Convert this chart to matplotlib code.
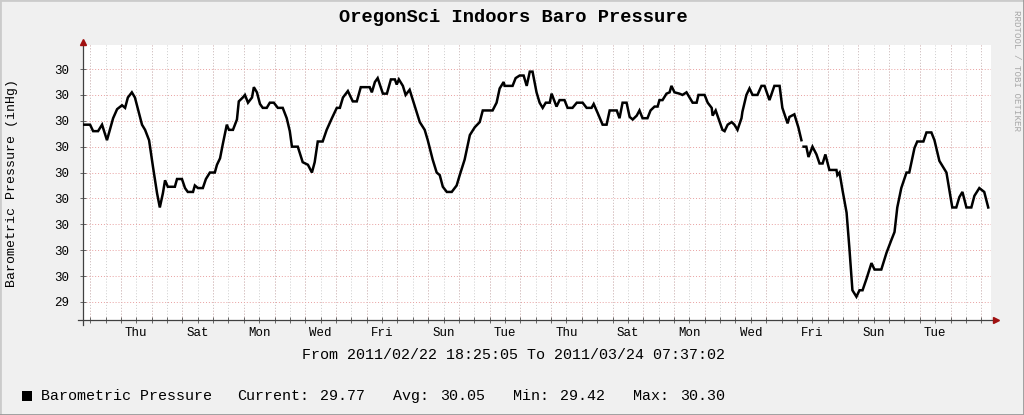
import matplotlib
matplotlib.use('Agg')
import matplotlib.pyplot as plt
import matplotlib.dates as mdates
from matplotlib.ticker import FixedLocator, FormatStrFormatter
from matplotlib.lines import Line2D
from matplotlib.patches import Rectangle
import numpy as np
import pandas as pd

plt.rcParams['font.family'] = ['Liberation Mono', 'DejaVu Sans Mono']

# time span of the graph
start = pd.Timestamp('2011-02-22 18:25:05')
end = pd.Timestamp('2011-03-24 07:37:02')

# days since start, pressure in inHg (nan = gap in the data)
days = [0.00, 0.23, 0.33, 0.49, 0.62, 0.78, 0.98, 1.11, 1.27, 1.37, 1.46, 1.59, 1.69, 1.92,
        2.02, 2.15, 2.28, 2.41, 2.50, 2.60, 2.67, 2.76, 2.99, 3.06, 3.22, 3.32, 3.41, 3.58,
        3.64, 3.74, 3.90, 4.00, 4.13, 4.29, 4.36, 4.46, 4.55, 4.68, 4.75, 4.88, 5.01, 5.07,
        5.20, 5.27, 5.37, 5.50, 5.56, 5.66, 5.76, 5.85, 5.98, 6.08, 6.21, 6.34, 6.50, 6.63,
        6.73, 6.80, 6.99, 7.15, 7.32, 7.45, 7.54, 7.64, 7.80, 7.93, 8.10, 8.26, 8.36, 8.46,
        8.62, 8.78, 8.91, 9.04, 9.33, 9.40, 9.50, 9.59, 9.76, 9.89, 10.02, 10.15, 10.21,
        10.28, 10.41, 10.50, 10.63, 10.80, 10.96, 11.12, 11.22, 11.38, 11.51, 11.61, 11.71,
        11.84, 12.00, 12.16, 12.26, 12.42, 12.59, 12.75, 12.91, 13.01, 13.33, 13.46, 13.56,
        13.69, 13.72, 13.98, 14.08, 14.21, 14.34, 14.44, 14.54, 14.63, 14.76, 14.86, 14.96,
        15.06, 15.19, 15.25, 15.41, 15.51, 15.67, 15.77, 15.93, 16.07, 16.26, 16.39, 16.55,
        16.62, 16.75, 16.91, 17.04, 17.14, 17.37, 17.46, 17.56, 17.69, 17.79, 17.89, 18.02,
        18.11, 18.21, 18.37, 18.47, 18.60, 18.70, 18.76, 18.86, 18.99, 19.09, 19.15, 19.25,
        19.41, 19.51, 19.64, 19.84, 19.97, 20.03, 20.23, 20.33, 20.46, 20.49, 20.59, 20.72,
        20.81, 20.88, 20.98, 21.11, 21.20, 21.30, 21.43, 21.46, 21.59, 21.69, 21.79, 21.95,
        22.08, 22.18, 22.34, 22.50, 22.67, 22.76, 22.93, 22.99, 23.15, 23.28, 23.38, 23.41,
        23.45, 23.54, 23.61, 23.74, 23.87, 23.97, 24.07, 24.16, 24.29, 24.52, 24.55, 24.62,
        24.72, 24.85, 24.94, 25.04, 25.17, 25.27, 25.37, 25.50, 25.66, 25.76, 25.98, 26.15,
        26.31, 26.41, 26.50, 26.63, 26.80, 26.89, 27.06, 27.15, 27.35, 27.45, 27.61, 27.71,
        27.87, 28.10, 28.29, 28.42, 28.52, 28.62, 28.75, 28.91, 29.01, 29.17, 29.33, 29.46]
pressure = [30.085, 30.085, 30.06, 30.06, 30.085, 30.025, 30.11, 30.145, 30.16, 30.15, 30.19, 30.21, 30.19, 30.085,
            30.065, 30.025, 29.92, 29.82, 29.765, 29.82, 29.87, 29.845, 29.845, 29.875, 29.875, 29.84, 29.825, 29.825,
            29.85, 29.84, 29.84, 29.875, 29.9, 29.9, 29.93, 29.955, 30.01, 30.085, 30.065, 30.065, 30.105, 30.175,
            30.19, 30.2, 30.17, 30.19, 30.23, 30.21, 30.165, 30.15, 30.15, 30.17, 30.17, 30.15, 30.15, 30.11,
            30.06, 30.0, 30.0, 29.94, 29.93, 29.9, 29.94, 30.02, 30.02, 30.065, 30.11, 30.15, 30.15, 30.19,
            30.215, 30.175, 30.175, 30.23, 30.23, 30.21, 30.25, 30.265, 30.205, 30.205, 30.26, 30.26, 30.24,
            30.26, 30.235, 30.2, 30.22, 30.155, 30.095, 30.065, 30.025, 29.95, 29.9, 29.89, 29.845,
            29.825, 29.825, 29.85, 29.89, 29.95, 30.045, 30.075, 30.095, 30.14, 30.14, 30.17, 30.225,
            30.25, 30.235, 30.235, 30.265, 30.275, 30.275, 30.235, 30.29, 30.29, 30.21, 30.17, 30.15,
            30.17, 30.17, 30.205, 30.155, 30.18, 30.18, 30.15, 30.15, 30.17, 30.17, 30.15, 30.15,
            30.165, 30.13, 30.085, 30.085, 30.14, 30.14, 30.11, 30.17, 30.17, 30.115, 30.105, 30.12,
            30.14, 30.11, 30.11, 30.14, 30.155, 30.155, 30.18, 30.18, 30.205, 30.21, 30.235, 30.21,
            30.205, 30.2, 30.21, 30.17, 30.17, 30.2, 30.2, 30.17, 30.15, 30.12, 30.14, 30.095,
            30.065, 30.06, 30.085, 30.095, 30.085, 30.065, 30.11, 30.135, 30.2, 30.225, 30.2, 30.2,
            30.235, 30.235, 30.18, 30.235, 30.235, 30.15, 30.09, 30.115, 30.125, 30.075, 30.025, np.nan,
            30.0, 30.0, 29.96, 30.0, 29.97, 29.935, 29.935, 29.97, 29.91, 29.91, 29.89, 29.9,
            29.83, 29.745, 29.61, 29.445, 29.42, 29.445, 29.445, 29.49, 29.55, 29.525, 29.525, 29.59,
            29.64, 29.67, 29.765, 29.84, 29.9, 29.9, 29.995, 30.02, 30.02, 30.055, 30.055, 30.025,
            29.945, 29.9, 29.765, 29.765, 29.805, 29.825, 29.765, 29.765, 29.81, 29.84, 29.825, 29.765]

legend_name = 'Barometric Pressure'
stat_names = ['Current:', 'Avg:', 'Min:', 'Max:']
stat_values = [29.77, 30.05, 29.42, 30.30]

W, H = 1024, 415
fig = plt.figure(figsize=(W / 100, H / 100), dpi=100, facecolor='#f0f0f0')
ax = fig.add_axes([83 / W, 95 / H, 908 / W, 275 / H])
ax.set_facecolor('white')

times = (start + pd.to_timedelta(days, unit='D')).to_numpy()
ax.plot(times, pressure, color='black', lw=1.8, solid_joinstyle='miter', zorder=5)

ax.set_xlim(start, end)
ax.set_ylim(29.33, 30.393)

# y grid every 0.1
ax.yaxis.set_major_locator(FixedLocator(np.arange(29.4, 30.31, 0.1)))
ax.yaxis.set_major_formatter(FormatStrFormatter('%.0f'))
ax.grid(axis='y', which='major', color='#e8a0a0', ls=(0, (1, 2)), lw=0.7)

# x: minor grid every 12h, major (red) at midnight, labels at noon every 2 days
ax.xaxis.set_minor_locator(mdates.HourLocator(byhour=[0, 12]))
ax.grid(axis='x', which='minor', color='#cccccc', ls=(0, (1, 2)), lw=0.7)
for d in pd.date_range(start.ceil('D'), end, freq='D'):
    ax.axvline(d, color='#e8a0a0', ls=(0, (1, 2)), lw=0.7, zorder=1)
label_days = pd.date_range('2011-02-24 12:00', end, freq='2D')
ax.xaxis.set_major_locator(FixedLocator(mdates.date2num(label_days.to_pydatetime())))
ax.xaxis.set_major_formatter(mdates.DateFormatter('%a'))
ax.xaxis.remove_overlapping_locs = False

ax.tick_params(axis='x', which='major', length=0, pad=5, labelsize=9)
ax.tick_params(axis='x', which='minor', direction='inout', length=4, width=0.7, color='#666666')
ax.tick_params(axis='y', which='major', direction='inout', length=4, width=0.7, color='#666666',
               pad=8, labelsize=9)
for s in ax.spines.values():
    s.set_visible(False)

# axis lines with arrows
ax.plot([-0.006, 1.004], [0, 0], transform=ax.transAxes, color='#404040', lw=0.9, clip_on=False)
ax.plot([0, 0], [-0.018, 1.0], transform=ax.transAxes, color='#404040', lw=0.9, clip_on=False)
ax.plot([1.006], [0], marker='>', ms=4, color='#a01010', transform=ax.transAxes, clip_on=False)
ax.plot([0], [1.012], marker='^', ms=4, color='#a01010', transform=ax.transAxes, clip_on=False)

fig.text(513 / W, 1 - 17 / H, 'OregonSci Indoors Baro Pressure', ha='center', va='center',
         fontsize=13.5, fontweight='bold')
fig.text(12 / W, 1 - 183 / H, 'Barometric Pressure (inHg)', rotation=90, ha='center', va='center',
         fontsize=9.5)
fig.text(1016 / W, 1 - 70 / H, 'RRDTOOL / TOBI OETIKER', rotation=270, ha='center', va='center',
         fontsize=6.6, color='#a8a8a8')
fig.text(513 / W, 1 - 355 / H,
         'From ' + start.strftime('%Y/%m/%d %H:%M:%S') + ' To ' + end.strftime('%Y/%m/%d %H:%M:%S'),
         ha='center', va='center', fontsize=10.8)

# legend line
ly = 1 - 396 / H
fig.patches.append(Rectangle((22 / W, 1 - 401 / H), 10 / W, 10 / H, transform=fig.transFigure,
                             facecolor='black', edgecolor='none'))
fig.text(41 / W, ly, legend_name, ha='left', va='center', fontsize=10.8)
for i, (n, v) in enumerate(zip(stat_names, stat_values)):
    fig.text((309 + 120 * i) / W, ly, n, ha='right', va='center', fontsize=10.8)
    fig.text((365 + 120 * i) / W, ly, '%.2f' % v, ha='right', va='center', fontsize=10.8)

# 3d frame
fig.add_artist(Line2D([0, 0, 1], [0, 1, 1], transform=fig.transFigure, color='#cbcbcb', lw=2))
fig.add_artist(Line2D([0, 1, 1], [0, 0, 1], transform=fig.transFigure, color='#999999', lw=2))

fig.savefig('out.png', dpi=100, facecolor=fig.get_facecolor())
